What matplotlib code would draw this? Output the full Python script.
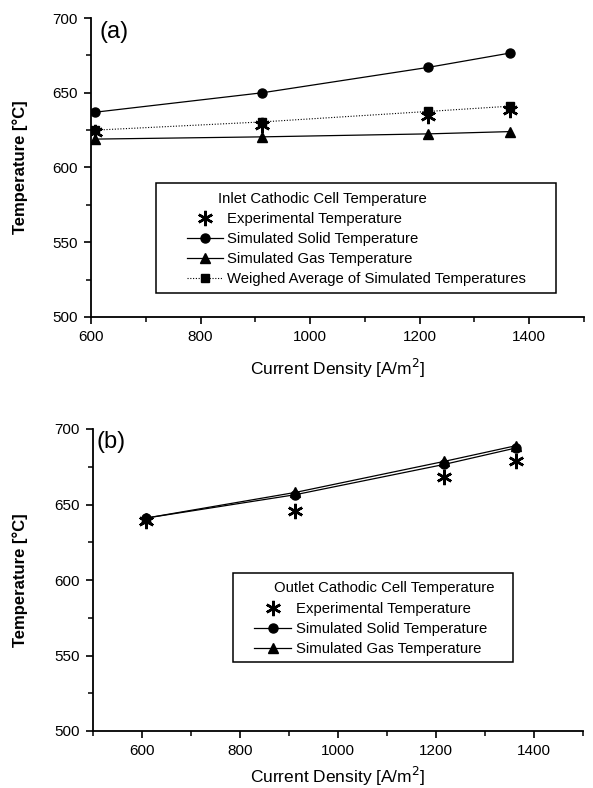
import matplotlib
matplotlib.use('Agg')
import matplotlib.pyplot as plt
from matplotlib.ticker import MultipleLocator
from matplotlib.lines import Line2D
from matplotlib.patches import Rectangle

plt.rcParams.update({'font.family': ['Liberation Sans', 'DejaVu Sans'], 'font.size': 10})

# current density [A/m2]
cd = [608, 913, 1216, 1364]

# (a) inlet cathodic cell temperature [degC]
inlet_exp = [624, 628.5, 634.5, 638.5]
inlet_solid = [637, 650, 667, 676.5]
inlet_gas = [619, 620.5, 622.5, 624]
inlet_avg = [625, 630.5, 637.5, 641]

# (b) outlet cathodic cell temperature [degC]
outlet_exp = [639, 646, 668.5, 678.5]
outlet_solid = [641, 656.5, 676.5, 687.5]
outlet_gas = [641, 658, 678.5, 689]

labels = ['Experimental Temperature', 'Simulated Solid Temperature',
          'Simulated Gas Temperature', 'Weighed Average of Simulated Temperatures']

W, H = 593, 788
fig = plt.figure(figsize=(W/100, H/100), dpi=100)
ax1 = fig.add_axes([91/W, 1-317/H, (584-91)/W, (317-18)/H])
ax2 = fig.add_axes([93/W, 1-731/H, (583-93)/W, (731-429)/H])

def px(x, y):
    # figure pixel (from top-left) -> figure fraction
    return x / W, 1 - y / H

star = dict(marker=(6, 2, 0), markersize=11, markeredgewidth=1.8, color='black', linestyle='none')
solid = dict(color='black', lw=0.9, marker='o', markersize=6.5)
gas = dict(color='black', lw=0.9, marker='^', markersize=7)
avg = dict(color='black', lw=0.8, linestyle=(0, (1, 1.5)), marker='s', markersize=5.5)

def style(ax, xmin):
    for s in ('top', 'right'):
        ax.spines[s].set_visible(False)
    for s in ('left', 'bottom'):
        ax.spines[s].set_linewidth(1.3)
    ax.set_xlim(xmin, 1500)
    ax.set_ylim(500, 700)
    ax.xaxis.set_minor_locator(MultipleLocator(100))
    ax.yaxis.set_major_locator(MultipleLocator(50))
    ax.yaxis.set_minor_locator(MultipleLocator(25))
    ax.tick_params(which='major', direction='out', length=5, width=1.2, labelsize=11, pad=4.5)
    ax.tick_params(which='minor', direction='out', length=3.5, width=1.1)
    ax.set_xticks(list(range(600, 1500, 200)))
    ax.set_ylabel('Temperature [°C]', fontsize=12, fontweight='bold')
    ax.set_xlabel('Current Density [A/m$^2$]', fontsize=12.5)

def legend(ax, handles, labs, title, anchor, title_xy, box, hl):
    leg = ax.legend(handles, labs, loc='upper left', bbox_to_anchor=px(*anchor),
                    bbox_transform=fig.transFigure, frameon=False, fontsize=10.7,
                    handlelength=hl, handletextpad=0.3, labelspacing=0.4,
                    borderpad=0, borderaxespad=0)
    fig.text(*px(*title_xy), title, fontsize=10.7, ha='left', va='center')
    x0, y0, x1, y1 = box
    fig.patches.append(Rectangle(px(x0, y1), (x1-x0)/W, (y1-y0)/H, transform=fig.transFigure,
                                 fill=False, edgecolor='black', lw=1.1))
    return leg

# (a)
ax1.plot(cd, inlet_solid, **solid)
ax1.plot(cd, inlet_gas, **gas)
ax1.plot(cd, inlet_avg, **avg)
ax1.plot(cd, inlet_exp, **star)
style(ax1, 600)
ax1.yaxis.set_label_coords(-0.128, 0.5)
ax1.xaxis.set_label_coords(0.5, -0.134)
ax1.text(0.018, 0.99, '(a)', transform=ax1.transAxes, fontsize=17, va='top')

h = [Line2D([], [], **star), Line2D([], [], **solid), Line2D([], [], **gas), Line2D([], [], **avg)]
legend(ax1, h, labels, 'Inlet Cathodic Cell Temperature',
       (187, 212), (218, 199), (156, 183, 556, 293), 2.4)

# (b)
ax2.plot(cd, outlet_solid, **solid)
ax2.plot(cd, outlet_gas, **gas)
ax2.plot(cd, outlet_exp, **star)
style(ax2, 500)
ax2.yaxis.set_label_coords(-0.133, 0.5)
ax2.xaxis.set_label_coords(0.5, -0.113)
ax2.text(0.008, 0.995, '(b)', transform=ax2.transAxes, fontsize=17, va='top')

legend(ax2, h[:3], labels[:3], 'Outlet Cathodic Cell Temperature',
       (254, 602), (274, 588), (233, 573, 513, 662), 2.5)

fig.savefig('out.png', dpi=100)
